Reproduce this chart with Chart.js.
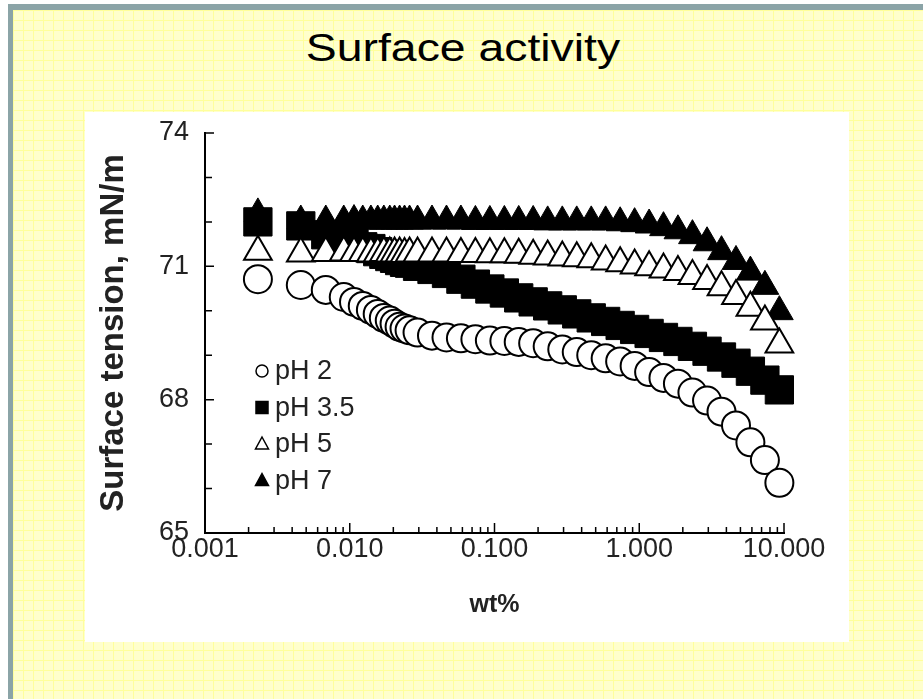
<!DOCTYPE html>
<html>
<head>
<meta charset="utf-8">
<script src="https://cdn.jsdelivr.net/npm/chart.js@4.4.0/dist/chart.umd.min.js"></script>
<style>
  html, body { margin: 0; padding: 0; background: #fff; }
  body { width: 923px; height: 699px; position: relative; overflow: hidden; font-family: "Liberation Sans", Arial, sans-serif; }
  #slide {
    position: absolute; left: 8px; top: 4px; width: 940px; height: 720px;
    border-top: 6px solid #8ba4a7; border-left: 5px solid #8ba4a7;
    background-color: #ffffcc;
    background-image: linear-gradient(#ffff9c 1px, transparent 1px), linear-gradient(90deg, #ffff9c 1px, transparent 1px);
    background-size: 10px 10px;
  }
  #title {
    position: absolute; left: 463px; top: 29px; font-size: 38px; line-height: 1;
    transform: translateX(-50%) scaleX(1.22); white-space: nowrap; color: #000;
  }
  #panel { position: absolute; left: 85px; top: 112px; width: 764px; height: 530px; background: #fff; }
</style>
</head>
<body>
<div id="slide"></div>
<div id="title">Surface activity</div>
<div id="panel"><canvas id="tensionChart" width="764" height="530"></canvas></div>
<script>
// concentration, wt%
const wtPercent = [0.00232, 0.00459, 0.00683, 0.00909, 0.0107, 0.0123, 0.0140, 0.0156, 0.0172, 0.0189,
    0.0204, 0.0221, 0.0239, 0.0259, 0.0294, 0.0370, 0.0466, 0.0586, 0.0738, 0.0929,
    0.117, 0.147, 0.185, 0.233, 0.294, 0.370, 0.466, 0.586, 0.738, 0.929,
    1.17, 1.47, 1.85, 2.33, 2.94, 3.70, 4.66, 5.86, 7.38, 9.29];

// surface tension, mN/m
const pH2 = [70.71, 70.58, 70.47, 70.31, 70.20, 70.11, 70.02, 69.93, 69.84, 69.78,
    69.71, 69.64, 69.60, 69.56, 69.51, 69.44, 69.40, 69.38, 69.36, 69.33,
    69.32, 69.30, 69.27, 69.20, 69.13, 69.07, 69.00, 68.93, 68.86, 68.76,
    68.62, 68.49, 68.36, 68.16, 67.98, 67.73, 67.42, 67.04, 66.64, 66.13];
const pH35 = [72.00, 71.91, 71.71, 71.58, 71.51, 71.44, 71.40, 71.33, 71.27, 71.22,
    71.18, 71.13, 71.09, 71.07, 71.00, 70.93, 70.84, 70.71, 70.60, 70.49,
    70.40, 70.29, 70.20, 70.11, 70.02, 69.93, 69.84, 69.76, 69.67, 69.58,
    69.49, 69.40, 69.31, 69.20, 69.09, 68.96, 68.82, 68.64, 68.44, 68.22];
const pH5 = [71.33, 71.29, 71.30, 71.31, 71.30, 71.30, 71.29, 71.29, 71.30, 71.29,
    71.29, 71.29, 71.28, 71.29, 71.29, 71.29, 71.29, 71.28, 71.28, 71.27,
    71.27, 71.26, 71.24, 71.22, 71.20, 71.18, 71.16, 71.11, 71.07, 71.02,
    70.98, 70.93, 70.87, 70.78, 70.67, 70.53, 70.33, 70.07, 69.76, 69.24];
const pH7 = [72.18, 72.02, 72.02, 72.02, 72.03, 72.02, 72.02, 72.02, 72.02, 72.02,
    72.02, 72.02, 72.02, 72.02, 72.02, 72.02, 72.02, 72.02, 72.01, 72.01,
    72.01, 72.01, 72.01, 72.00, 72.00, 72.00, 72.00, 72.00, 71.98, 71.96,
    71.93, 71.87, 71.80, 71.69, 71.53, 71.33, 71.11, 70.87, 70.55, 69.98];

const seriesLabels = ['pH 2', 'pH 3.5', 'pH 5', 'pH 7'];

const xTickValues = [0.001, 0.01, 0.1, 1, 10];
const xTickLabels = ['0.001', '0.010', '0.100', '1.000', '10.000'];
const yTickValues = [65, 68, 71, 74];
const yTickLabels = ['65', '68', '71', '74'];

const FONT = '"Liberation Sans", Arial, sans-serif';
Chart.defaults.font.family = FONT;
Chart.defaults.color = '#222';

function toPoints(ys) {
    return wtPercent.map((x, i) => ({ x: x, y: ys[i] }));
}

// small ticks pointing into the plot, like the original figure
const tickMarks = {
    id: 'tickMarks',
    beforeDatasetsDraw(chart) {
        const { ctx, chartArea, scales: { x, y } } = chart;
        ctx.save();
        ctx.strokeStyle = '#000';
        ctx.lineWidth = 1.5;
        ctx.beginPath();
        xTickValues.forEach((major, i) => {
            const px = x.getPixelForValue(major);
            ctx.moveTo(px, chartArea.bottom);
            ctx.lineTo(px, chartArea.bottom - 10);
            if (i < xTickValues.length - 1) {
                for (let m = 2; m <= 9; m++) {
                    const mx = x.getPixelForValue(major * m);
                    ctx.moveTo(mx, chartArea.bottom);
                    ctx.lineTo(mx, chartArea.bottom - 6);
                }
            }
        });
        for (let v = y.min; v <= y.max; v++) {
            const py = y.getPixelForValue(v);
            const len = yTickValues.includes(v) ? 9 : 7;
            ctx.moveTo(chartArea.left, py);
            ctx.lineTo(chartArea.left + len, py);
        }
        ctx.stroke();
        ctx.restore();
    }
};

function drawSymbol(ctx, style, fill, cx, cy) {
    ctx.beginPath();
    if (style === 'circle') {
        ctx.arc(cx, cy, 6, 0, Math.PI * 2);
    } else if (style === 'rect') {
        ctx.rect(cx - 6, cy - 6, 12, 12);
    } else {
        ctx.moveTo(cx, cy - 7);
        ctx.lineTo(cx + 6.5, cy + 5);
        ctx.lineTo(cx - 6.5, cy + 5);
        ctx.closePath();
    }
    ctx.fillStyle = fill;
    ctx.fill();
    ctx.strokeStyle = '#000';
    ctx.lineWidth = 1.5;
    ctx.stroke();
}

// legend sits inside the plot area, lower left
const insideLegend = {
    id: 'insideLegend',
    afterDraw(chart) {
        const { ctx, chartArea } = chart;
        const x0 = chartArea.left + 57;
        const y0 = chartArea.top + 238;
        ctx.save();
        chart.data.datasets.forEach((ds, i) => {
            const cy = y0 + i * 36.5;
            drawSymbol(ctx, ds.pointStyle, ds.pointBackgroundColor, x0, cy);
            ctx.fillStyle = '#222';
            ctx.font = '27px ' + FONT;
            ctx.textBaseline = 'middle';
            ctx.fillText(ds.label, x0 + 13, cy + 1);
        });
        ctx.restore();
    }
};

new Chart(document.getElementById('tensionChart'), {
    type: 'scatter',
    data: {
        datasets: [
            {
                label: seriesLabels[0],
                data: toPoints(pH2),
                pointStyle: 'circle',
                pointRadius: 14,
                pointBackgroundColor: '#fff',
                pointBorderColor: '#000',
                pointBorderWidth: 2,
                order: 1,
                clip: false
            },
            {
                label: seriesLabels[1],
                data: toPoints(pH35),
                pointStyle: 'rect',
                pointRadius: 20,
                pointBackgroundColor: '#000',
                pointBorderColor: '#000',
                pointBorderWidth: 1,
                order: 2,
                clip: false
            },
            {
                label: seriesLabels[2],
                data: toPoints(pH5),
                pointStyle: 'triangle',
                pointRadius: 16,
                pointBackgroundColor: '#fff',
                pointBorderColor: '#000',
                pointBorderWidth: 2,
                order: 0,
                clip: false
            },
            {
                label: seriesLabels[3],
                data: toPoints(pH7),
                pointStyle: 'triangle',
                pointRadius: 16,
                pointBackgroundColor: '#000',
                pointBorderColor: '#000',
                pointBorderWidth: 1,
                order: 3,
                clip: false
            }
        ]
    },
    options: {
        responsive: false,
        animation: false,
        events: [],
        layout: { padding: { left: 0, top: 17, right: 65, bottom: 0 } },
        plugins: {
            legend: { display: false },
            tooltip: { enabled: false }
        },
        scales: {
            x: {
                type: 'logarithmic',
                min: 0.001,
                max: 10,
                afterBuildTicks: scale => { scale.ticks = xTickValues.map(v => ({ value: v })); },
                afterFit: scale => { scale.height = 109; },
                grid: { display: false, drawTicks: false },
                border: { display: true, color: '#000', width: 2 },
                ticks: {
                    callback: (value, index) => xTickLabels[index],
                    font: { size: 27 },
                    color: '#222',
                    padding: 0,
                    maxRotation: 0,
                    autoSkip: false
                },
                title: {
                    display: true,
                    text: 'wt%',
                    font: { size: 25, weight: 'bold' },
                    color: '#222',
                    padding: { top: 0, bottom: 22 }
                }
            },
            y: {
                min: 65,
                max: 74,
                afterBuildTicks: scale => { scale.ticks = yTickValues.map(v => ({ value: v })); },
                afterFit: scale => {
                    scale.width = 120;
                    scale.paddingTop = 0;
                    scale.paddingBottom = 0;
                },
                grid: { display: false, drawTicks: false },
                border: { display: true, color: '#000', width: 2 },
                ticks: {
                    callback: (value, index) => yTickLabels[index],
                    font: { size: 27 },
                    color: '#222',
                    padding: 16
                },
                title: {
                    display: true,
                    text: 'Surface tension, mN/m',
                    font: { size: 33, weight: 'bold' },
                    color: '#222',
                    padding: { top: 9, bottom: 0 }
                }
            }
        }
    },
    plugins: [tickMarks, insideLegend]
});
</script>
</body>
</html>
